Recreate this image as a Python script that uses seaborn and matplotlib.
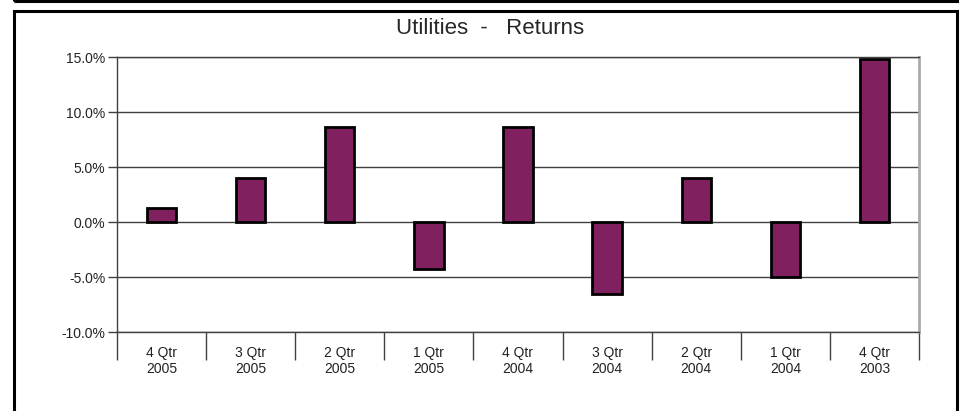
import numpy as np
import pandas as pd
import seaborn as sns
import matplotlib.pyplot as plt
from matplotlib.patches import Rectangle
from matplotlib.ticker import FixedLocator, FuncFormatter

quarters = ['4 Qtr\n2005', '3 Qtr\n2005', '2 Qtr\n2005', '1 Qtr\n2005',
            '4 Qtr\n2004', '3 Qtr\n2004', '2 Qtr\n2004', '1 Qtr\n2004',
            '4 Qtr\n2003']
returns = [1.3, 4.0, 8.6, -4.3, 8.6, -6.5, 4.0, -5.0, 14.8]
yticks = [-10, -5, 0, 5, 10, 15]

df = pd.DataFrame({'quarter': quarters, 'ret': returns})

sns.set_style("white")
plt.rcParams['font.family'] = ['Liberation Sans', 'DejaVu Sans']

fig = plt.figure(figsize=(9.65, 4.11), dpi=100)
ax = fig.add_axes([117 / 965, 1 - 332 / 411, (919 - 117) / 965, (332 - 57) / 411])

sns.barplot(data=df, x='quarter', y='ret', order=quarters, color='#80205F',
            saturation=1, width=0.33, edgecolor='black', linewidth=2, ax=ax)

ax.set_ylim(-10, 15)
ax.set_xlim(-0.5, len(quarters) - 0.5)
ax.set_xlabel('')
ax.set_ylabel('')

ax.yaxis.set_major_locator(FixedLocator(yticks))
ax.yaxis.set_major_formatter(FuncFormatter(lambda v, p: '%.1f%%' % v))
ax.tick_params(axis='y', which='major', left=True, length=6.5, width=1,
               color='#404040', direction='out', pad=2, labelsize=10,
               labelcolor='#222222')
for y in yticks:
    ax.axhline(y, color='#404040', lw=1, zorder=0)

# category separators below the axis
ax.xaxis.set_minor_locator(FixedLocator(np.arange(-0.5, len(quarters), 1)))
ax.tick_params(axis='x', which='minor', bottom=True, length=20, width=1,
               color='#404040', direction='out')
ax.tick_params(axis='x', which='major', bottom=False, length=0, pad=10,
               labelsize=10, labelcolor='#222222')
for lbl in ax.get_xticklabels():
    lbl.set_linespacing(1.2)

for s in ['left', 'bottom', 'top']:
    ax.spines[s].set_color('#404040')
    ax.spines[s].set_linewidth(1)
ax.spines['right'].set_color('#aaaaaa')
ax.spines['right'].set_linewidth(2)

fig.text(490 / 965, 1 - 29 / 411, 'Utilities  -   Returns', ha='center',
         va='center', fontsize=16)

# outer frames
fig.patches.append(Rectangle((13.5 / 965, -0.2), (957 - 13.5) / 965,
                             1.2 - 11.5 / 411, transform=fig.transFigure,
                             fill=False, edgecolor='black', lw=2.2))
fig.patches.append(Rectangle((13.5 / 965, 1 - 1.5 / 411), (957 - 13.5) / 965,
                             0.2, transform=fig.transFigure, fill=False,
                             edgecolor='black', lw=2.2, clip_on=False))

plt.savefig('out.png', dpi=100)
